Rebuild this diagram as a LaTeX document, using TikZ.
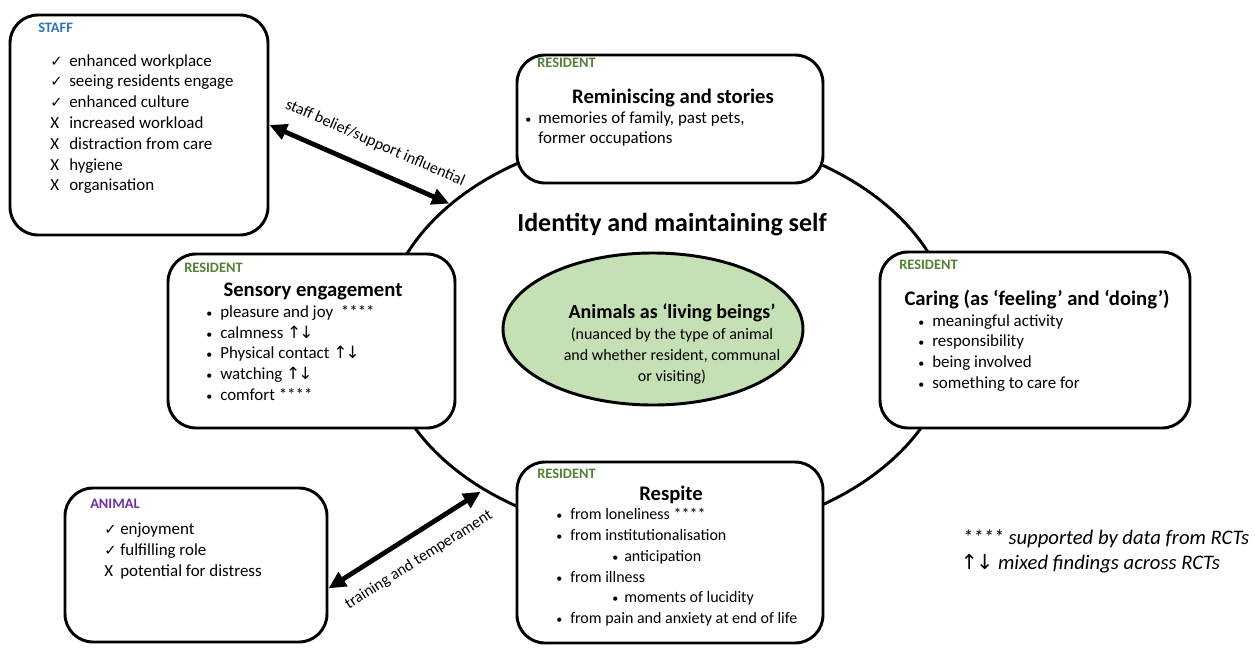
\documentclass[tikz,border=0pt]{standalone}
\usepackage{fontspec}
\setmainfont{Carlito}
\newfontfamily\symfont{DejaVu Sans}
\usetikzlibrary{shapes.geometric,arrows.meta}
\definecolor{resgreen}{HTML}{548235}
\definecolor{staffblue}{HTML}{2E75B6}
\definecolor{animpurple}{HTML}{7030A0}
\definecolor{corefill}{HTML}{C5E0B4}
\newcommand{\bodyfont}{\fontsize{12.7}{15.6}\selectfont}
\newcommand{\chk}{{\symfont\fontsize{11}{11}\selectfont ✓}}
\newcommand{\bul}{{\fontsize{9}{9}\selectfont •}}
\newcommand{\updn}{{\symfont ↑\kern-1.5pt↓}}
\newcommand{\mk}[2][14.25pt]{\makebox[#1][l]{#2}}
\tikzstyle{box}=[draw, line width=2.2pt, rounded corners=21pt, fill=white]
\tikzstyle{tag}=[anchor=west, inner sep=0pt, font=\fontsize{10.8}{12}\selectfont\bfseries]
\tikzstyle{head}=[inner sep=0pt, font=\fontsize{15.5}{18}\selectfont\bfseries]
\tikzstyle{list}=[anchor=north west, inner sep=0pt, align=left, font=\bodyfont]
\tikzstyle{link}=[{Triangle[length=13pt,width=12pt]}-{Triangle[length=13pt,width=12pt]}, line width=3.6pt]

\begin{document}
\begin{tikzpicture}[x=0.75pt, y=-0.75pt]
    \useasboundingbox (0,0) rectangle (1258,647);
    % outer ring and core
    \node[draw, ellipse, line width=2.2pt, inner sep=0pt, minimum width=427.5pt, minimum height=303pt] (self) at (668,335) {};
    \node[font=\fontsize{19.5}{23}\selectfont\bfseries] (selftitle) at (672,225) {Identity and maintaining self};
    \node[draw, ellipse, line width=2.2pt, fill=corefill, inner sep=0pt, minimum width=225pt, minimum height=114pt] (core) at (653,329) {};
    \node[font=\fontsize{15}{18}\selectfont\bfseries] (coretitle) at (672,313) {Animals as ‘living beings’};
    \node[align=center, font=\fontsize{12}{15.75}\selectfont] (coresub) at (672,356) {(nuanced by the type of animal\\ and whether resident, communal\\ or visiting)};

    % boxes
    \node[box, minimum width=193.5pt, minimum height=165pt] (staff) at (139,125) {};
    \node[box, minimum width=229.5pt, minimum height=96pt] (remin) at (670,119) {};
    \node[box, minimum width=215.25pt, minimum height=130.5pt] (sensory) at (311.5,341) {};
    \node[box, minimum width=232.5pt, minimum height=132pt] (caring) at (1035,340) {};
    \node[box, minimum width=229.5pt, minimum height=135.75pt] (respite) at (670,552.5) {};
    \node[box, minimum width=196.5pt, minimum height=115.5pt] (animal) at (196,565) {};

    % staff
    \node[tag, text=staffblue] (stafftag) at (38,28) {STAFF};
    \node[list] (stafflist) at (50,54) {\mk{\chk}enhanced workplace\\ \mk{\chk}seeing residents engage\\ \mk{\chk}enhanced culture\\ \mk{X}increased workload\\ \mk{X}distraction from care\\ \mk{X}hygiene\\ \mk{X}organisation};

    % reminiscing
    \node[tag, text=resgreen] (remintag) at (537,63) {RESIDENT};
    \node[head] (remintitle) at (673,98) {Reminiscing and stories};
    \node[list] (reminlist) at (525,111) {\mk[9.75pt]{\bul}memories of family, past pets,\\ \mk[9.75pt]{}former occupations};

    % sensory
    \node[tag, text=resgreen] (sensorytag) at (184,268) {RESIDENT};
    \node[head] (sensorytitle) at (313,291) {Sensory engagement};
    \node[list] (sensorylist) at (206,305) {\mk[10.5pt]{\bul}pleasure and joy~ ****\\ \mk[10.5pt]{\bul}calmness \updn\\ \mk[10.5pt]{\bul}Physical contact \updn\\ \mk[10.5pt]{\bul}watching \updn\\ \mk[10.5pt]{\bul}comfort ****};

    % caring
    \node[tag, text=resgreen] (caringtag) at (899,265) {RESIDENT};
    \node[head] (caringtitle) at (1037,300) {Caring (as ‘feeling’ and ‘doing’)};
    \node[list] (caringlist) at (918,314) {\mk[10.5pt]{\bul}meaningful activity\\ \mk[10.5pt]{\bul}responsibility\\ \mk[10.5pt]{\bul}being involved\\ \mk[10.5pt]{\bul}something to care for};

    % respite
    \node[tag, text=resgreen] (respitetag) at (537,474) {RESIDENT};
    \node[head] (respitetitle) at (671,495) {Respite};
    \node[list, font=\fontsize{12}{15.6}\selectfont] (respitelist) at (556,508) {\mk[10.5pt]{\bul}from loneliness ****\\ \mk[10.5pt]{\bul}from institutionalisation\\ \hspace{42pt}\mk[9pt]{\bul}anticipation\\ \mk[10.5pt]{\bul}from illness\\ \hspace{42pt}\mk[9pt]{\bul}moments of lucidity\\ \mk[10.5pt]{\bul}from pain and anxiety at end of life};

    % animal
    \node[tag, text=animpurple] (animaltag) at (90,504) {ANIMAL};
    \node[list] (animallist) at (104,523) {\mk[12pt]{\chk}enjoyment\\ \mk[12pt]{\chk}fulfilling role\\ \mk[12pt]{X}potential for distress};

    % links
    \draw[link] (staff.east) -- (self.149) node[pos=0.53, sloped, above=9pt, font=\fontsize{12}{14}\selectfont] {staff belief/support influential};
    \draw[link, shorten >=2pt] (animal.-10) -- (self.220) node[midway, sloped, below=8pt, font=\fontsize{12}{14}\selectfont] {training and temperament};

    % key
    \node[anchor=west, font=\fontsize{15.5}{18}\selectfont\itshape] (key1) at (958,539) {**** supported by data from RCTs};
    \node[anchor=west, font=\fontsize{15.5}{18}\selectfont\itshape] (key2) at (956,564) {\updn\ mixed findings across RCTs};
\end{tikzpicture}
\end{document}
